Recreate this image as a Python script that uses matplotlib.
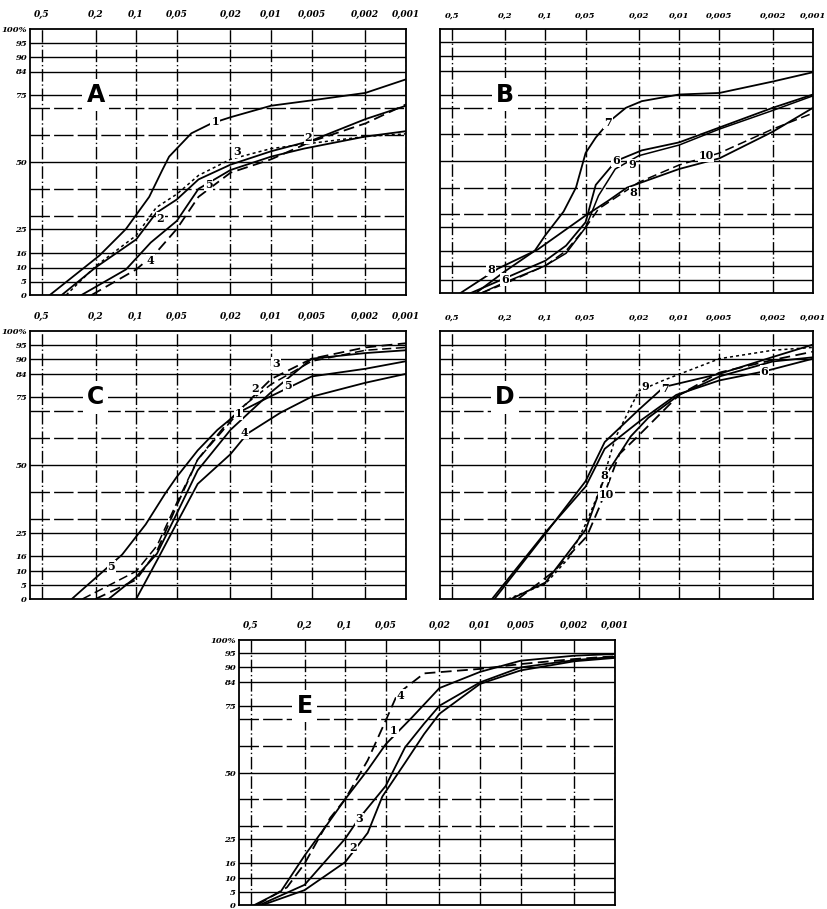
import numpy as np
import matplotlib
matplotlib.use("Agg")
import matplotlib.pyplot as plt
from matplotlib.ticker import FixedLocator, FixedFormatter, NullLocator

# grain size ticks (mm) and their labels
size_ticks = [0.5, 0.2, 0.1, 0.05, 0.02, 0.01, 0.005, 0.002, 0.001]
size_labels = ["0,5", "0,2", "0,1", "0,05", "0,02", "0,01", "0,005", "0,002", "0,001"]
pct_ticks = [0, 5, 10, 16, 25, 50, 75, 84, 90, 95, 100]
pct_labels = ["0", "5", "10", "16", "25", "50", "75", "84", "90", "95", "100%"]
pct_grid = [5, 10, 16, 25, 30, 40, 50, 60, 70, 75, 84, 90, 95]
# spacing of the percent axis as printed on the graph paper
paper_pos = [0, 13.5, 27.5, 42.5, 66, 133, 200, 223.5, 238.5, 252.5, 266]

# panel A
a1_x = [0.436, 0.187, 0.119, 0.080, 0.064, 0.057, 0.039, 0.0277, 0.02, 0.01, 0.005, 0.002, 0.001]
a1_y = [0, 14.8, 25, 37, 47, 52, 60.7, 64.4, 66.7, 71, 73, 75.8, 81]
a2_x = [0.356, 0.2, 0.1, 0.071, 0.05, 0.0345, 0.02, 0.01, 0.005, 0.002, 0.001]
a2_y = [0, 10, 21, 31, 36, 43.5, 49, 54, 58, 66, 71]
a3_x = [0.33, 0.2, 0.1, 0.071, 0.05, 0.0345, 0.02, 0.01, 0.005, 0.002, 0.001]
a3_y = [0, 10.5, 22.5, 33, 38, 45, 51, 55, 57, 59.5, 60.5]
a4_x = [0.254, 0.119, 0.078, 0.05, 0.0345, 0.02, 0.01, 0.0057, 0.002, 0.001]
a4_y = [0, 9.3, 19.8, 28, 40, 47, 52, 55, 59.5, 61.5]
a5_x = [0.214, 0.1, 0.071, 0.05, 0.0345, 0.02, 0.01, 0.005, 0.002, 0.001]
a5_y = [0, 9.3, 16, 25, 37, 46, 51, 57.7, 64.4, 71.5]

# panel B
b6_x = [0.36, 0.2, 0.1, 0.07, 0.05, 0.042, 0.0297, 0.019, 0.01, 0.005, 0.002, 0.001]
b6_y = [0, 5.5, 12, 18, 27, 41, 50, 54, 57, 62.6, 70, 75]
b7_x = [0.33, 0.2, 0.12, 0.1, 0.073, 0.059, 0.05, 0.042, 0.033, 0.025, 0.019, 0.01, 0.005, 0.002, 0.001]
b7_y = [0, 8, 16, 22, 31, 40, 53, 58.8, 65, 70, 72.5, 75, 75.6, 80, 83.6]
b8_x = [0.43, 0.225, 0.114, 0.05, 0.034, 0.0245, 0.01, 0.005, 0.002, 0.001]
b8_y = [0, 9, 16.5, 29.5, 35, 40, 47, 51, 61, 70]
b9_x = [0.3, 0.2, 0.1, 0.07, 0.05, 0.04, 0.03, 0.02, 0.01, 0.005, 0.002, 0.001]
b9_y = [0, 4, 10, 15, 25, 37, 47, 52, 56, 62, 69, 74.5]
b10_x = [0.3, 0.2, 0.1, 0.07, 0.05, 0.04, 0.02, 0.01, 0.005, 0.002, 0.001]
b10_y = [0, 3.5, 10, 16, 25, 32, 42, 48.5, 53, 62, 68]

# panel C
c1_x = [0.16, 0.1, 0.07, 0.05, 0.035, 0.02, 0.01, 0.005, 0.002, 0.001]
c1_y = [0, 8, 17, 32, 48, 63, 77, 90, 92, 93]
c2_x = [0.25, 0.1, 0.07, 0.05, 0.035, 0.02, 0.015, 0.01, 0.005, 0.002, 0.001]
c2_y = [0, 10, 20, 36, 52, 66, 73, 80, 89, 93, 94]
c3_x = [0.2, 0.1, 0.07, 0.05, 0.035, 0.02, 0.01, 0.005, 0.002, 0.001]
c3_y = [0, 7, 18, 35, 52, 67, 82, 90, 94, 95.5]
c4_x = [0.1, 0.068, 0.047, 0.035, 0.02, 0.015, 0.0085, 0.005, 0.002, 0.001]
c4_y = [0, 15.6, 31, 43, 54, 61.6, 69.4, 75.3, 80.6, 84]
c5_x = [0.3, 0.25, 0.127, 0.085, 0.061, 0.05, 0.035, 0.025, 0.0175, 0.0105, 0.005, 0.002, 0.001]
c5_y = [0, 3.5, 16.6, 28, 39.4, 45.6, 55.4, 63, 69.4, 75, 83, 86, 89]

# panel D
d6_x = [0.25, 0.1, 0.05, 0.036, 0.02, 0.0105, 0.005, 0.0023, 0.001]
d6_y = [0, 25, 42, 56, 66, 76, 81.5, 85, 90]
d7_x = [0.24, 0.1, 0.05, 0.036, 0.02, 0.013, 0.005, 0.002, 0.001]
d7_y = [0, 24.5, 44, 58.5, 70.5, 79, 84, 90.6, 95]
d8_x = [0.18, 0.1, 0.05, 0.036, 0.023, 0.017, 0.01, 0.005, 0.002, 0.001]
d8_y = [0, 6, 26, 45.6, 60.6, 67.5, 76, 83, 88.9, 90.5]
d9_x = [0.19, 0.1, 0.066, 0.049, 0.039, 0.03, 0.02, 0.013, 0.005, 0.002, 0.001]
d9_y = [0, 5.5, 15.6, 29, 41, 60, 77.5, 81.6, 90, 93, 94]
d10_x = [0.16, 0.086, 0.049, 0.039, 0.028, 0.02, 0.01, 0.005, 0.002, 0.001]
d10_y = [0, 10, 23.5, 35, 54, 61, 76, 84.5, 89.5, 92.5]

# panel E
e1_x = [0.47, 0.3, 0.2, 0.137, 0.1, 0.068, 0.05, 0.032, 0.02, 0.01, 0.005, 0.002, 0.001]
e1_y = [0, 5, 18.7, 30.3, 40, 51, 60.6, 70.6, 81.8, 88.2, 92.4, 94.2, 94.8]
e2_x = [0.41, 0.2, 0.1, 0.068, 0.053, 0.036, 0.026, 0.02, 0.01, 0.005, 0.002, 0.001]
e2_y = [0, 5.5, 16.2, 27.4, 41, 53.6, 64.4, 72, 83.4, 88.8, 92.2, 93.4]
e3_x = [0.43, 0.2, 0.1, 0.08, 0.05, 0.036, 0.026, 0.02, 0.01, 0.005, 0.002, 0.001]
e3_y = [0, 7.4, 25.2, 32.4, 45, 59.4, 68.3, 75, 84, 90, 92.6, 93.8]
e4_x = [0.45, 0.27, 0.2, 0.129, 0.1, 0.068, 0.05, 0.041, 0.026, 0.01, 0.005, 0.002, 0.001]
e4_y = [0, 6.5, 15.6, 33, 40, 54.6, 69.5, 79.5, 87.6, 89.4, 91.2, 93, 94]

SOLID = "-"
DASH = (0, (6, 3))
DOT = (0, (2, 2))


def fwd(v):
    return np.interp(v, pct_ticks, paper_pos)


def inv(p):
    return np.interp(p, paper_pos, pct_ticks)


def setup(ax, letter, ylabels=True, xsize=6.5):
    ax.set_xscale("log")
    ax.set_yscale("function", functions=(fwd, inv))
    ax.set_xlim(0.612, 0.001)
    ax.set_ylim(0, 100)
    ax.xaxis.tick_top()
    ax.xaxis.set_major_locator(FixedLocator(size_ticks))
    ax.xaxis.set_major_formatter(FixedFormatter(size_labels))
    ax.xaxis.set_minor_locator(NullLocator())
    ax.yaxis.set_major_locator(FixedLocator(pct_ticks))
    ax.yaxis.set_minor_locator(NullLocator())
    if ylabels:
        ax.yaxis.set_major_formatter(FixedFormatter(pct_labels))
    else:
        ax.set_yticklabels([])
    ax.tick_params(axis="x", length=0, pad=7, labelsize=xsize)
    ax.tick_params(axis="y", length=0, pad=2, labelsize=6)
    for lab in ax.get_xticklabels() + ax.get_yticklabels():
        lab.set_fontstyle("italic")
        lab.set_fontweight("bold")
        lab.set_family("DejaVu Serif")
    for s in ax.spines.values():
        s.set_linewidth(1.3)
    for x in size_ticks:
        ax.axvline(x, color="black", lw=1.0, ls=(0, (9, 2, 1, 2)), zorder=1)
    for y in pct_grid:
        ls = "-" if y in pct_ticks else (0, (14, 3))
        ax.axhline(y, color="black", lw=1.0, ls=ls, zorder=1)
    ax.text(0.2, 75, letter, fontsize=17, fontweight="bold", ha="center", va="center",
            family="DejaVu Sans", zorder=3,
            bbox=dict(facecolor="white", edgecolor="none", pad=3))


def curve(ax, xs, ys, ls=SOLID, lw=1.3):
    ax.plot(xs, ys, color="black", lw=lw, ls=ls, zorder=2)


def label(ax, x, y, txt):
    ax.text(x, y, txt, fontsize=8, ha="center", va="center", family="DejaVu Serif",
            fontweight="bold", zorder=4,
            bbox=dict(facecolor="white", edgecolor="none", pad=0.6))


W, H = 827, 909
fig = plt.figure(figsize=(W / 100, H / 100), dpi=100)
fig.patch.set_facecolor("white")


def box(l, t, r, b):
    return [l / W, 1 - b / H, (r - l) / W, (b - t) / H]


axA = fig.add_axes(box(30, 29, 406, 295))
axB = fig.add_axes(box(440, 29, 813, 293))
axC = fig.add_axes(box(30, 331, 406, 599))
axD = fig.add_axes(box(440, 331, 813, 599))
axE = fig.add_axes(box(239, 640, 615, 905))

setup(axA, "A")
curve(axA, a1_x, a1_y)
curve(axA, a2_x, a2_y)
curve(axA, a3_x, a3_y, DOT, 1.1)
curve(axA, a4_x, a4_y)
curve(axA, a5_x, a5_y, DASH)
label(axA, 0.026, 65, "1")
label(axA, 0.018, 54, "3")
label(axA, 0.029, 41.5, "5")
label(axA, 0.066, 29, "2")
label(axA, 0.078, 13, "4")
label(axA, 0.0053, 59, "2")

setup(axB, "B", ylabels=False, xsize=6)
curve(axB, b6_x, b6_y)
curve(axB, b7_x, b7_y)
curve(axB, b8_x, b8_y)
curve(axB, b9_x, b9_y, lw=1.1)
curve(axB, b10_x, b10_y, DASH, 1.1)
label(axB, 0.034, 64.4, "7")
label(axB, 0.0296, 50, "6")
label(axB, 0.0226, 48.5, "9")
label(axB, 0.022, 38, "8")
label(axB, 0.0063, 52, "10")
label(axB, 0.254, 8.7, "8")
label(axB, 0.2, 5, "6")

setup(axC, "C")
curve(axC, c1_x, c1_y)
curve(axC, c2_x, c2_y, DASH, 1.1)
curve(axC, c3_x, c3_y, DASH)
curve(axC, c4_x, c4_y)
curve(axC, c5_x, c5_y)
label(axC, 0.0092, 88, "3")
label(axC, 0.0131, 78.5, "2")
label(axC, 0.0075, 79.5, "5")
label(axC, 0.0174, 69, "1")
label(axC, 0.0157, 62, "4")
label(axC, 0.153, 12, "5")

setup(axD, "D", ylabels=False, xsize=6)
curve(axD, d6_x, d6_y)
curve(axD, d7_x, d7_y)
curve(axD, d8_x, d8_y)
curve(axD, d9_x, d9_y, DOT, 1.1)
curve(axD, d10_x, d10_y, DASH)
label(axD, 0.0178, 79, "9")
label(axD, 0.0128, 78.5, "7")
label(axD, 0.0023, 85, "6")
label(axD, 0.036, 46, "8")
label(axD, 0.035, 39, "10")

setup(axE, "E")
curve(axE, e1_x, e1_y)
curve(axE, e2_x, e2_y)
curve(axE, e3_x, e3_y)
curve(axE, e4_x, e4_y, DASH)
label(axE, 0.039, 79, "4")
label(axE, 0.0435, 65.8, "1")
label(axE, 0.0785, 32.6, "3")
label(axE, 0.0868, 22, "2")

fig.savefig("out.png", dpi=100, facecolor="white")
